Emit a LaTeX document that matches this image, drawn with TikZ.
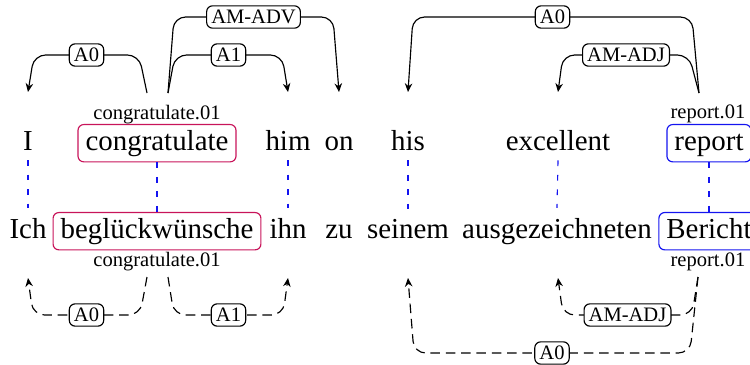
\documentclass[tikz,border=0pt]{standalone}
\usepackage{fontspec}
\setmainfont{Liberation Serif}
\usetikzlibrary{arrows.meta}
\definecolor{predred}{RGB}{200,20,90}
\definecolor{predblue}{RGB}{20,20,240}
\begin{document}
\begin{tikzpicture}[x=0.3457pt,y=-0.3457pt,
  word/.style={anchor=base,inner sep=3.3pt,font=\fontsize{10}{12}\selectfont},
  predbox/.style={word,draw,rounded corners=2pt,inner xsep=2.6pt,inner ysep=1.9pt,text height=6.9pt,text depth=2.2pt},
  sense/.style={anchor=base,inner sep=1pt,font=\fontsize{7.1}{8}\selectfont},
  lbl/.style={draw,solid,fill=white,rounded corners=2pt,inner xsep=1.6pt,inner ysep=1.4pt,font=\fontsize{7.1}{8}\selectfont,text height=4.7pt,text depth=0.2pt},
  arc/.style={-{Stealth[length=3pt,width=2.6pt]},rounded corners=4pt,thin},
  darc/.style={arc,dash pattern=on 3.3pt off 2pt},
  align/.style={predblue,thin,dash pattern=on 2pt off 3pt}]
\useasboundingbox (0,0) rectangle (750,365);
% top row
\node[word] (I) at (28,150) {I};
\node[predbox,predred] (congr) at (157,150) {\color{black}congratulate};
\node[word] (him) at (288,150) {him};
\node[word] (on) at (339,150) {on};
\node[word] (his) at (408,150) {his};
\node[word] (exc) at (558,150) {excellent};
\node[predbox,predblue] (rep) at (709,150) {\color{black}report};
\node[sense] (congrS) at (157,119) {congratulate.01};
\node[sense] (repS) at (708,118) {report.01};
% bottom row
\node[word] (Ich) at (28,238) {Ich};
\node[predbox,predred] (begl) at (157,238) {\color{black}beglückwünsche};
\node[word] (ihn) at (288,238) {ihn};
\node[word] (zu) at (339,238) {zu};
\node[word] (sein) at (408,238) {seinem};
\node[word] (ausg) at (557,238) {ausgezeichneten};
\node[predbox,predblue] (ber) at (709,238) {\color{black}Bericht};
\node[sense] (beglS) at (157,266) {congratulate.01};
\node[sense] (berS) at (708,266.5) {report.01};
% alignments
\draw[align] (I.south) -- (Ich.north);
\draw[align] (congr.south) -- (begl.north);
\draw[align] (him.south) -- (ihn.north);
\draw[align] (his.south) -- (sein.north);
\draw[align] (exc.south) -- (ausg.north);
\draw[align] (rep.south) -- (ber.north);
% top arc end points
\coordinate (tA) at (147,93);
\coordinate (tB) at (168,93);
\coordinate (tR) at (699,93);
\coordinate (eI) at (28,92);
\coordinate (eHim) at (288,92);
\coordinate (eOn) at (339,92);
\coordinate (eHis) at (408,92);
\coordinate (eExc) at (558,92);
% top arcs
\draw[arc] (tA) -- (139,55) -- node[lbl]{A0} (34,55) -- (eI);
\draw[arc] (tB) -- (175,55) -- node[lbl]{A1} (282,55) -- (eHim);
\draw[arc] (tB) -- (174,17) -- node[lbl]{AM-ADV} (333,17) -- (eOn);
\draw[arc] (tR) -- (692,17) -- node[lbl]{A0} (413,17) -- (eHis);
\draw[arc] (tR) -- (689,55) -- node[lbl]{AM-ADJ} (563,55) -- (eExc);
% bottom arc end points
\coordinate (bA) at (147,277);
\coordinate (bB) at (168,277);
\coordinate (bR) at (698,277);
\coordinate (fIch) at (28,278);
\coordinate (fIhn) at (288,278);
\coordinate (fSein) at (408,278);
\coordinate (fAusg) at (558,278);
% bottom arcs
\draw[darc] (bA) -- (140,315) -- node[lbl]{A0} (33,315) -- (fIch);
\draw[darc] (bB) -- (174,315) -- node[lbl]{A1} (283,315) -- (fIhn);
\draw[darc] (bR) -- (692,315) -- node[lbl]{AM-ADJ} (563,315) -- (fAusg);
\draw[darc] (bR) -- (690,353) -- node[lbl]{A0} (414,353) -- (fSein);
\end{tikzpicture}
\end{document}
